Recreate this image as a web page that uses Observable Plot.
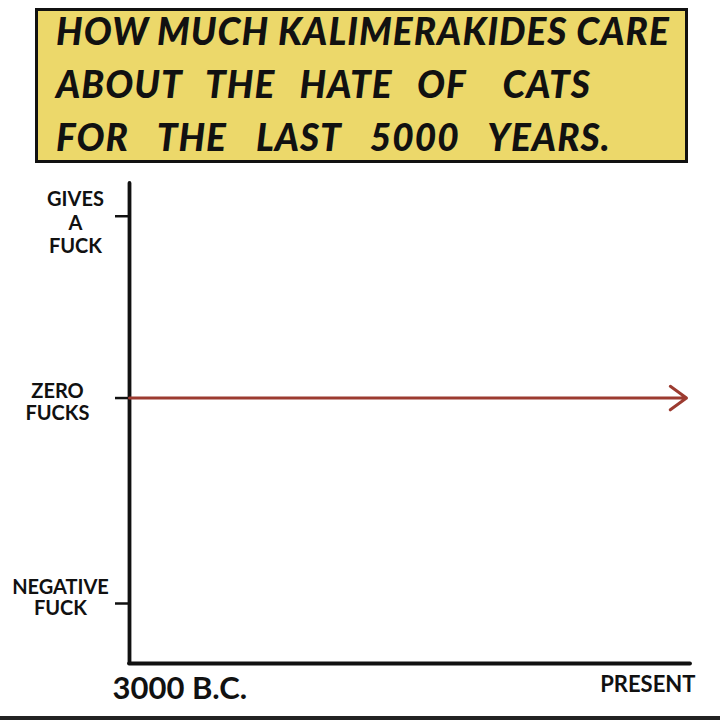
<!DOCTYPE html>
<html>
<head>
<meta charset="utf-8">
<script src="https://cdn.jsdelivr.net/npm/d3@7"></script>
<script src="https://cdn.jsdelivr.net/npm/@observablehq/plot@0.6"></script>
<style>
  html, body { margin: 0; padding: 0; background: #fff; }
  #wrap { position: relative; width: 720px; height: 720px; overflow: hidden; background: #fff; }
  #title {
    position: absolute; left: 35px; top: 8px; width: 647px; height: 149px;
    background: #ecd86a; border: 3px solid #111; box-sizing: content-box;
  }
  #titleText {
    position: relative; top: -7px; left: 18px;
    font-family: "Lato", sans-serif; font-weight: 900; font-style: italic;
    font-size: 37px; letter-spacing: 1px; color: #111; line-height: 53px;
    white-space: pre;
  }
  #chart { position: absolute; left: 0; top: 170px; }
  #edge { position: absolute; left: 0; top: 716px; width: 720px; height: 4px; background: #222; }
</style>
</head>
<body>
<div id="wrap">
  <div id="title"><div id="titleText"></div></div>
  <div id="chart"></div>
  <div id="edge"></div>
</div>
<script>
// ---- data ----
const titleLines = ["HOW MUCH KALIMERAKIDES CARE", "ABOUT  THE  HATE  OF   CATS", "FOR  THE  LAST  5000  YEARS."];
const years = [-3000, 2000];              // 3000 B.C. -> present
const careLevel = [0, 0];                 // zero fucks throughout
const yTicks = [1, 0, -1.13];
const yLabels = ["GIVES\nA\nFUCK", "ZERO\nFUCKS", "NEGATIVE\nFUCK"];
const xTicks = [-3000, 2000];
const xLabels = ["3000 B.C.", "PRESENT"];

const titleWordSpacing = [0, 3.3, 5.6];
const titleEl = document.getElementById("titleText");
titleLines.forEach((t, i) => {
  const d = document.createElement("div");
  d.textContent = t;
  d.style.wordSpacing = titleWordSpacing[i] + "px";
  titleEl.appendChild(d);
});

const series = [{x1: years[0], y1: careLevel[0], x2: years[1], y2: careLevel[1]}];
const yTable = yTicks.map((v, i) => ({v, label: yLabels[i]}));
const xTable = xTicks.map((v, i) => ({v, label: xLabels[i]}));

const labelDx = [-54, -72, -69];
const labelDy = [6, 4, -6];
const labelLH = [1.16, 1.08, 1.08];

const plot = Plot.plot({
  width: 720,
  height: 546,
  marginTop: 13,
  marginBottom: 53,
  marginLeft: 129,
  marginRight: 30,
  x: {domain: [-3000, 2000], axis: null},
  y: {domain: [-1.46, 1.18], axis: null},
  style: {fontFamily: "Lato, sans-serif", background: "transparent"},
  marks: [
    Plot.ruleX([years[0]], {stroke: "#111", strokeWidth: 3.8, strokeLinecap: "round"}),
    Plot.ruleY([-1.46], {stroke: "#111", strokeWidth: 3.8, strokeLinecap: "round"}),
    Plot.axisY({ticks: yTicks, tickSize: 14, tickFormat: () => "", stroke: "#111", strokeWidth: 2.5}),
    ...yTable.map((d, i) => Plot.text([d], {
      x: () => years[0], y: "v", text: "label",
      dx: labelDx[i], dy: labelDy[i], textAnchor: "middle", lineAnchor: "middle",
      fontSize: 20, fontWeight: "bold", lineHeight: labelLH[i], fill: "#111"
    })),
    Plot.arrow(series, {
      x1: "x1", y1: "y1", x2: "x2", y2: "y2", insetEnd: 4,
      stroke: "#9c3b30", strokeWidth: 3, headLength: 10, headAngle: 72, bend: 0
    }),
    Plot.text([xTable[0]], {x: "v", text: "label", frameAnchor: "bottom", dy: 26, dx: -17,
      textAnchor: "start", lineAnchor: "middle", fontSize: 31, fontWeight: "bold", fill: "#111"}),
    Plot.text([xTable[1]], {x: "v", text: "label", frameAnchor: "bottom", dy: 21, dx: 5,
      textAnchor: "end", lineAnchor: "middle", fontSize: 22, fontWeight: "bold", fill: "#111"})
  ]
});
document.getElementById("chart").appendChild(plot);
</script>
</body>
</html>
